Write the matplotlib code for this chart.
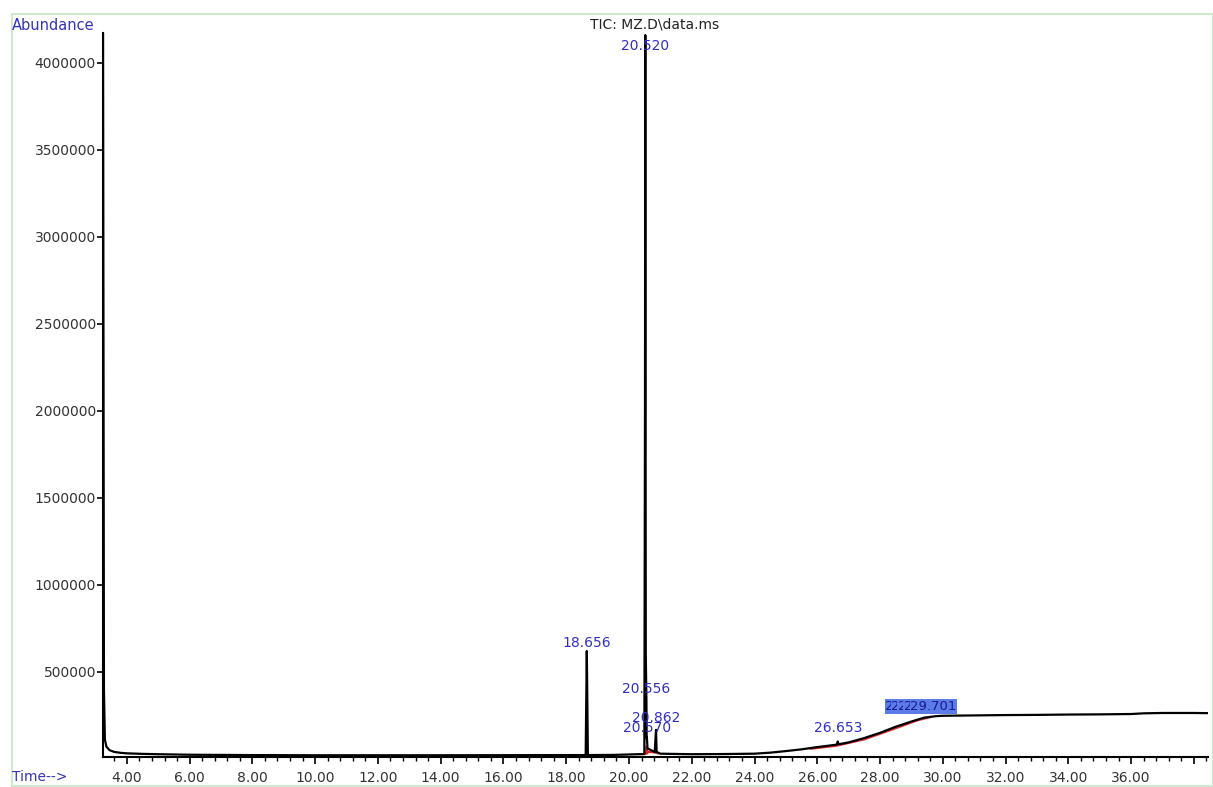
import matplotlib
matplotlib.use("Agg")
import matplotlib.pyplot as plt
from matplotlib.patches import Rectangle
from matplotlib.ticker import MultipleLocator, FixedLocator, FixedFormatter

plt.rcParams['font.family'] = ['DejaVu Sans']

# ---- data ----
time_min = [3.24, 3.27, 3.30, 3.35, 3.45, 3.6, 3.8, 4.0, 4.5, 5.0, 6.0, 7.0, 8.0,
            10.0, 12.0, 14.0, 16.0, 18.0, 18.62, 18.656, 18.69, 19.5, 20.49,
            20.51, 20.52, 20.535, 20.556, 20.563, 20.570, 20.59, 20.82, 20.862,
            20.88, 21.0, 22.0, 23.0, 24.0, 24.5, 25.0, 25.5, 26.0, 26.62, 26.653,
            26.68, 27.0, 27.5, 28.0, 28.5, 29.0, 29.4, 29.8, 30.0, 31.0, 32.0,
            33.0, 34.0, 35.0, 36.0, 36.4, 37.0, 38.0, 38.45]
abundance = [4300000, 400000, 110000, 70000, 50000, 40000, 35000, 32000, 29000,
             27000, 24000, 23000, 22000, 21000, 21000, 21000, 21500, 22000, 22000,
             620000, 22000, 23000, 28000, 2000000, 4160000, 600000, 330000,
             120000, 125000, 60000, 40000, 167000, 40000, 30000, 27000, 28000,
             30000, 36000, 45000, 55000, 68000, 82000, 100000, 84000, 95000,
             120000, 150000, 185000, 215000, 237000, 246000, 248000, 250000,
             252000, 253000, 255000, 256000, 258000, 262000, 264000, 264000, 263000]

peak_times = [18.656, 20.520, 20.556, 20.570, 20.862, 26.653]
peak_labels = ["18.656", "20.520", "20.556", "20.570", "20.862", "26.653"]
peak_heights = [620000, 4160000, 330000, 110000, 167000, 100000]

cluster_times = [28.90, 29.10, 29.30, 29.50, 29.70]
cluster_labels = ["28.905", "29.102", "29.318", "29.512", "29.701"]
cluster_height = 250000

# integration baselines (red)
red_t1 = [18.60, 18.72]
red_y1 = [22000, 22000]
red_t2 = [20.48, 20.62, 20.80, 20.92]
red_y2 = [28000, 40000, 38000, 32000]
red_t3 = [25.8, 26.6, 27.5, 28.5, 29.2, 29.6]
red_y3 = [58000, 75000, 112000, 176000, 222000, 240000]
red_fill_t = [20.50, 20.60]
red_fill_top = [80000, 70000]

x_major = [4, 6, 8, 10, 12, 14, 16, 18, 20, 22, 24, 26, 28, 30, 32, 34, 36, 38]
x_labels = ["4.00", "6.00", "8.00", "10.00", "12.00", "14.00", "16.00", "18.00",
            "20.00", "22.00", "24.00", "26.00", "28.00", "30.00", "32.00", "34.00",
            "36.00", ""]
y_major = [500000, 1000000, 1500000, 2000000, 2500000, 3000000, 3500000, 4000000]
y_labels = ["500000", "1000000", "1500000", "2000000", "2500000", "3000000",
            "3500000", "4000000"]

# ---- figure ----
W, H = 1213, 787
fig = plt.figure(figsize=(W / 100, H / 100), dpi=100)
fig.patch.set_facecolor("white")

# light green frame
fig.patches.append(Rectangle((12 / W, 1 / H), (W - 12) / W, (H - 15) / H,
                             transform=fig.transFigure, fill=False,
                             edgecolor="#cfe9cf", linewidth=1.5))

ax = fig.add_axes([103 / W, 1 - 757 / H, (1208 - 103) / W, (757 - 33) / H])
ax.set_xlim(3.24, 38.45)
ax.set_ylim(11000, 4172000)

blue = "#2f2fc4"
ax.fill_between(red_fill_t, [26000, 30000], red_fill_top, color="#e02020", lw=0)
ax.plot(red_t1, red_y1, color="#e02020", lw=1.5)
ax.plot(red_t2, red_y2, color="#e02020", lw=1.5)
ax.plot(red_t3, red_y3, color="#e03030", lw=1.5)
ax.plot(time_min, abundance, color="black", lw=1.6, clip_on=True)

offsets = [8, -11, 12, 12, 12, 14]
for t, lab, h, off in zip(peak_times, peak_labels, peak_heights, offsets):
    ax.annotate(lab, xy=(t, h), xytext=(0, off), textcoords="offset pixels",
                ha="center", va="center", color=blue, fontsize=10)

for t, lab in zip(cluster_times, cluster_labels):
    ax.annotate(lab, xy=(t, cluster_height), xytext=(0, 9), textcoords="offset pixels",
                ha="center", va="center", color="#1a1a9a", fontsize=9.5,
                bbox=dict(facecolor="#5b7be6", edgecolor="none", pad=0.5))

for s in ["top", "right"]:
    ax.spines[s].set_visible(False)
for s in ["left", "bottom"]:
    ax.spines[s].set_linewidth(1.5)
    ax.spines[s].set_color("black")

ax.xaxis.set_major_locator(FixedLocator(x_major))
ax.xaxis.set_major_formatter(FixedFormatter(x_labels))
ax.xaxis.set_minor_locator(MultipleLocator(0.4))
ax.yaxis.set_major_locator(FixedLocator(y_major))
ax.yaxis.set_major_formatter(FixedFormatter(y_labels))

ax.tick_params(axis="x", which="major", direction="out", length=5, width=1.2,
               pad=5, labelsize=10, labelcolor="#333333")
ax.tick_params(axis="x", which="minor", direction="out", length=3, width=1.0)
ax.tick_params(axis="y", which="major", direction="out", length=4, width=1.2,
               pad=1, labelsize=10, labelcolor="#333333")

fig.text(12 / W, 1 - 25 / H, "Abundance", color="#3333bb", fontsize=10.5,
         ha="left", va="center")
fig.text(12 / W, 1 - 777 / H, "Time-->", color="#3333bb", fontsize=10,
         ha="left", va="center")
fig.text(655 / W, 1 - 25 / H, "TIC: MZ.D\\data.ms", color="#222222", fontsize=10,
         ha="center", va="center")

fig.savefig("out.png", dpi=100, facecolor="white")
